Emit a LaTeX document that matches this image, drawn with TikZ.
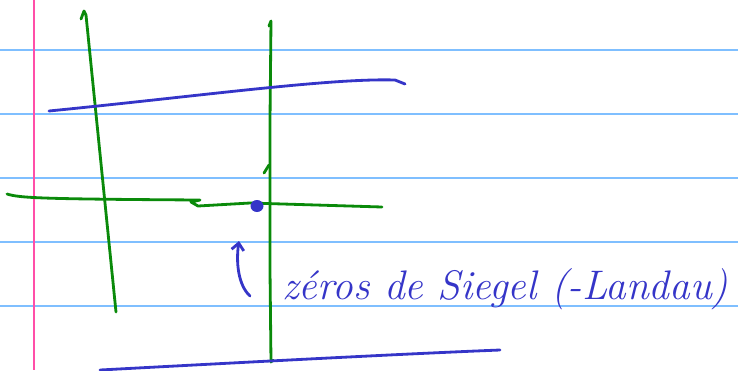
\documentclass[tikz,border=0pt]{standalone}
\usepackage{tikz}
\usetikzlibrary{arrows.meta}

\definecolor{ruleblue}{HTML}{7FBFFF}
\definecolor{marginpink}{HTML}{FF4FA8}
\definecolor{greenink}{HTML}{0A8A0A}
\definecolor{blueink}{HTML}{3535C8}

\begin{document}
\begin{tikzpicture}[
  x=0.02cm, y=-0.02cm,
  ruling/.style={ruleblue, line width=1.2pt},
  margin/.style={marginpink, line width=1.2pt},
  greenpen/.style={greenink, line width=1.6pt, line cap=round, line join=round},
  bluepen/.style={blueink, line width=1.6pt, line cap=round, line join=round},
  label/.style={blueink, font=\itshape\fontsize{23.5}{26}\selectfont, anchor=base west, inner sep=0pt}
]
\useasboundingbox (0,0) rectangle (738,370);

% --- Paper ---
\foreach \y in {50,114,178,242,306} {
  \draw[ruling] (0,\y) -- (738,\y);
}
\draw[margin] (34,0) -- (34,370);

% --- Green axes ---
\draw[greenpen] (81,19) -- (84,11) -- (86,15) -- (116,312);
\draw[greenpen] (269,26) -- (271,21) -- (270,120) -- (270,270) -- (271,362) -- (273,360);
\draw[greenpen] (264,173) -- (269,165);
\draw[greenpen] (7,194) .. controls (20,198) and (40,199) .. (200,200)
  -- (191,202) -- (198,206) -- (250,203) -- (382,207);

% --- Blue lines ---
\draw[bluepen] (49,111) .. controls (200,96) and (330,78) .. (395,80) -- (405,84);
\draw[bluepen] (100,370) .. controls (250,362) and (400,354) .. (500,350);

% --- Siegel zero ---
\fill[blueink] (257,206) ellipse (6.5 and 6);
\coordinate (zero) at (239,241);
\draw[bluepen, -{Straight Barb[length=4pt, width=7pt]}] (250,296)
  .. controls (238,285) and (236,262) .. (zero);

% --- Label ---
\node[label] (siegel) at (282,299) {z\'eros de Siegel (-Landau)};
\end{tikzpicture}
\end{document}
